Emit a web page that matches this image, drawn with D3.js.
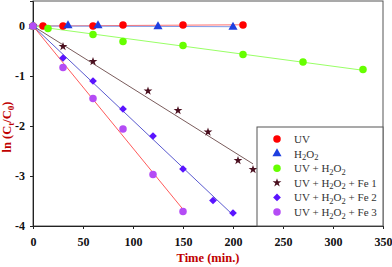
<!DOCTYPE html>
<html>
<head>
<meta charset="utf-8">
<script src="https://cdn.jsdelivr.net/npm/d3@7"></script>
<style>
  body { margin: 0; background: #fff; }
  svg text { font-family: "Liberation Serif", "Times New Roman", serif; }
</style>
</head>
<body>
<svg id="chart" width="392" height="267"></svg>
<script>
// data
var tUV = [0, 10, 30, 60, 90, 150, 210],
    vUV = [0, 0, 0, 0, 0.02, 0.02, 0.02];
var tH2O2 = [0, 35, 65, 125, 200],
    vH2O2 = [0, 0.01, 0.01, -0.01, -0.02];
var tUVH2O2 = [0, 15, 60, 90, 150, 210, 270, 330],
    vUVH2O2 = [0, -0.05, -0.17, -0.31, -0.39, -0.57, -0.72, -0.87];
var tFe1 = [0, 30, 60, 115, 145, 175, 205, 220],
    vFe1 = [0, -0.41, -0.71, -1.3, -1.69, -2.12, -2.69, -2.87];
var tFe2 = [0, 30, 60, 90, 120, 150, 180, 200],
    vFe2 = [0, -0.64, -1.1, -1.66, -2.2, -2.86, -3.49, -3.74];
var tFe3 = [0, 30, 60, 90, 120, 150],
    vFe3 = [0, -0.83, -1.45, -2.06, -2.97, -3.71];

var xTicks = [0, 50, 100, 150, 200, 250, 300, 350];
var yTicks = [0, -1, -2, -3, -4];

var series = [
  {name: "UV", t: tUV, v: vUV, sym: d3.symbolCircle, size: 44, rot: 0, fill: "#ff0000", line: "#ff7070"},
  {name: "H2O2", t: tH2O2, v: vH2O2, sym: d3.symbolTriangle, size: 36, rot: 0, fill: "#1f3fe0", line: "#7f9be8"},
  {name: "UV + H2O2", t: tUVH2O2, v: vUVH2O2, sym: d3.symbolCircle, size: 44, rot: 0, fill: "#66ff00", line: "#99ff66"},
  {name: "UV + H2O2 + Fe 1", t: tFe1, v: vFe1, sym: d3.symbolStar, size: 24, rot: 0, fill: "#4a0f1f", line: "#7a5c5c"},
  {name: "UV + H2O2 + Fe 2", t: tFe2, v: vFe2, sym: d3.symbolSquare, size: 30, rot: 45, fill: "#5a14ff", line: "#5a5ad0"},
  {name: "UV + H2O2 + Fe 3", t: tFe3, v: vFe3, sym: d3.symbolCircle, size: 44, rot: 0, fill: "#b44cf5", line: "#ff5a5a"}
];

var svg = d3.select("#chart"),
    margin = {top: 1, right: 9, bottom: 41, left: 33},
    width = 392 - margin.left - margin.right,
    height = 267 - margin.top - margin.bottom;

var x = d3.scaleLinear().domain([0, 350]).range([0, width]);
var y = d3.scaleLinear().domain([-4, 0.5]).range([height, 0]);

var g = svg.append("g").attr("transform", "translate(" + margin.left + "," + margin.top + ")");

// frame
g.append("rect")
  .attr("width", width).attr("height", height)
  .attr("fill", "none").attr("stroke", "#555").attr("stroke-width", 1);

var xAxis = g.append("g").attr("transform", "translate(0," + height + ")")
  .call(d3.axisBottom(x).tickValues(xTicks).tickFormat(d3.format("d")).tickSize(3).tickPadding(8));
var yAxis = g.append("g")
  .call(d3.axisLeft(y).tickValues(yTicks).tickFormat(d3.format("d")).tickSize(3).tickPadding(5));

[xAxis, yAxis].forEach(function(a) {
  a.select(".domain").attr("stroke", "#222");
  a.selectAll(".tick line").attr("stroke", "#222");
  a.selectAll("text")
    .attr("font-family", "Liberation Serif")
    .attr("font-weight", "bold")
    .attr("font-size", 12)
    .attr("fill", "#111");
});
yAxis.selectAll("text").text(function(d) { return d === 0 ? "0" : "-" + Math.abs(d); });

// regression lines through origin
series.forEach(function(s) {
  var stv = d3.sum(s.t, function(t, i) { return t * s.v[i]; });
  var stt = d3.sum(s.t, function(t) { return t * t; });
  var k = stv / stt;
  var tmax = d3.max(s.t);
  g.append("line")
    .attr("x1", x(0)).attr("y1", y(0))
    .attr("x2", x(tmax)).attr("y2", y(k * tmax))
    .attr("stroke", s.line).attr("stroke-width", 1);
});

// markers
series.forEach(function(s) {
  g.selectAll(null)
    .data(s.t.map(function(t, i) { return [t, s.v[i]]; }))
    .enter().append("path")
    .attr("d", d3.symbol().type(s.sym).size(s.size))
    .attr("transform", function(d) { return "translate(" + x(d[0]) + "," + y(d[1]) + ") rotate(" + s.rot + ")"; })
    .attr("fill", s.fill);
});

// legend
var lg = svg.append("g").attr("transform", "translate(257,127)");
lg.append("rect")
  .attr("width", 126).attr("height", 99)
  .attr("fill", "#fff").attr("stroke", "#555");

function addLabel(sel, name) {
  var parts = name.split("H2O2");
  var txt = sel.append("text").attr("font-size", 11).attr("fill", "#333");
  parts.forEach(function(p, i) {
    if (i > 0) {
      txt.append("tspan").text("H");
      txt.append("tspan").attr("font-size", 8.5).attr("dy", 2.5).text("2");
      txt.append("tspan").attr("dy", -2.5).text("O");
      txt.append("tspan").attr("font-size", 8.5).attr("dy", 2.5).text("2");
      if (p) txt.append("tspan").attr("dy", -2.5).text(p);
    } else if (p) {
      txt.append("tspan").text(p);
    }
  });
  return txt;
}

series.forEach(function(s, i) {
  var row = lg.append("g").attr("transform", "translate(0," + (12 + i * 14.6) + ")");
  row.append("path")
    .attr("d", d3.symbol().type(s.sym).size(s.size))
    .attr("transform", "translate(20,0) rotate(" + s.rot + ")")
    .attr("fill", s.fill);
  addLabel(row, s.name).attr("x", 37).attr("y", 4);
});

// axis titles
svg.append("text")
  .attr("x", margin.left + width / 2).attr("y", 262)
  .attr("text-anchor", "middle")
  .attr("font-weight", "bold").attr("font-size", 12.5)
  .attr("fill", "#c00000")
  .text("Time (min.)");

var yl = svg.append("text")
  .attr("transform", "translate(11,127) rotate(-90)")
  .attr("text-anchor", "middle")
  .attr("font-weight", "bold").attr("font-size", 12.5)
  .attr("fill", "#c00000");
yl.append("tspan").text("ln (C");
yl.append("tspan").attr("font-size", 9).attr("dy", 3).text("t");
yl.append("tspan").attr("dy", -3).text("/C");
yl.append("tspan").attr("font-size", 9).attr("dy", 3).text("0");
yl.append("tspan").attr("dy", -3).text(")");
</script>
</body>
</html>
